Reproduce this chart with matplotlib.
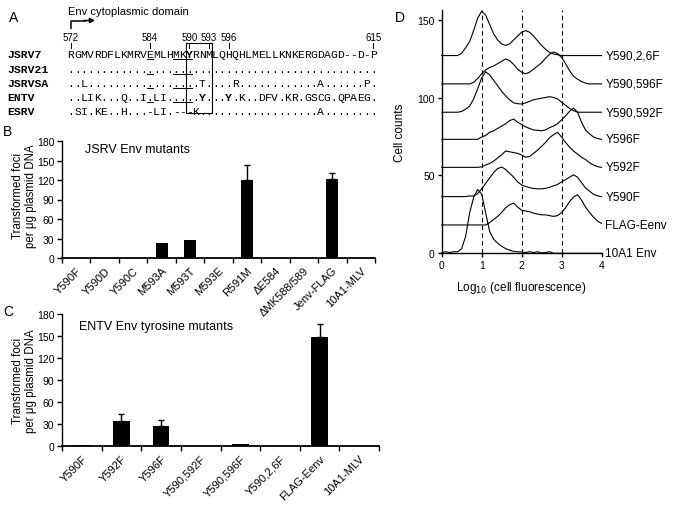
import matplotlib
matplotlib.use('Agg')
import matplotlib.pyplot as plt
import numpy as np

plt.rcParams['font.family'] = ['Liberation Sans', 'DejaVu Sans']

W, H = 675, 506

# ---------------- Panel A data ----------------
seq_names = ["JSRV7", "JSRV21", "JSRVSA", "ENTV", "ESRV"]
seq_rows = [
    "RGMVRDFLKMRVEMLHMKYRNMLQHQHLMELLKNKERGDAGD--D-P",
    "...............................................",
    "..L.................T....R............A......P.",
    "..LIK...Q..I.LI.....Y...Y.K..DFV.KR.GSCG.QPAEG.",
    ".SI.KE..H...-LI.---K..................A........",
]
pos_labels = {0: "572", 12: "584", 18: "590", 21: "593", 24: "596", 46: "615"}
bold_cells = [(0, 18), (3, 20), (3, 24)]
underline_cols = [12, 16, 17, 18]

# ---------------- Panel B data ----------------
cats_B = ["Y590F", "Y590D", "Y590C", "M593A", "M593T", "M593E", "R591M",
          "\u0394E584", "\u0394MK588/589", "Jenv-FLAG", "10A1-MLV"]
vals_B = [0, 0, 0, 22.5, 28, 0, 120.5, 0, 0, 122, 0]
errs_B = [0, 0, 0, 0, 0, 0, 22, 0, 0, 9.5, 0]

# ---------------- Panel C data ----------------
cats_C = ["Y590F", "Y592F", "Y596F", "Y590,592F", "Y590,596F", "Y590,2,6F",
          "FLAG-Eenv", "10A1-MLV"]
vals_C = [1.5, 34.5, 27.8, 0.5, 2.5, 0, 149, 0]
errs_C = [0, 9, 7.7, 0, 0, 0, 18, 0]

# ---------------- Panel D data ----------------
x_D = [round(0.1 * i, 1) for i in range(41)]
hist_labels = ["10A1 Env", "FLAG-Eenv", "Y590F", "Y592F", "Y596F",
               "Y590,592F", "Y590,596F", "Y590,2,6F"]
hist_offsets = [0, 18.2, 36.4, 55.2, 73.2, 90.6, 108.8, 127]
h_10A1 = [0.5, 1, 0.5, 1, 1, 3, 11, 26, 36, 41, 38, 26, 14, 9, 6.5, 4.5, 3, 2,
          1.2, 1, 0.8, 0.5, 1, 0.5, 1, 0.3, 0.5, 1, 0, 0, 0, 0, 0, 0, 0, 0, 0,
          0, 0, 0, 0]
h_FLAG = [0, 0, 0, 0, 0, 0, 0, 0, 0, 0, 0, 0, 1.5, 3.5, 5.5, 8, 11, 13, 14,
          11.5, 9.5, 9, 8.5, 7.5, 7, 6.5, 6.5, 6, 5.5, 6, 8, 11, 15, 18, 19.5,
          16, 11.5, 8, 5, 2.5, 1]
h_Y590F = [0, 0, 0, 0, 0, 0, 0, 0.5, 0.3, 2, 5, 8.5, 12, 15.5, 18, 19, 17.5,
           15, 12.5, 9.5, 7.5, 6.5, 5.8, 5.2, 5, 5, 5.3, 6, 7, 7.8, 9.5, 11,
           12.5, 14, 12.5, 9, 5.5, 3.5, 1.5, 0.5, 0]
h_Y592F = [0, 0, 0, 0, 0, 0, 0, 0, 0, 0, 0.3, 1.5, 2.5, 4, 6, 8, 10.5, 10,
           9.5, 9, 8, 6.5, 7, 9, 11, 13.5, 16, 19, 21, 22.5, 19.5, 16, 13,
           10.5, 8.5, 6.5, 5, 3, 1.5, 0.5, 0]
h_Y596F = [0, 0, 0, 0, 0, 0, 0, 0, 0, 0, 1.5, 2.5, 4.5, 5.5, 7, 8.5, 10, 12,
           13, 11, 9.5, 8, 7, 6, 5.8, 5.5, 6, 7.5, 8.5, 10, 12.5, 15, 18, 20,
           17.5, 11, 6, 3.5, 1.5, 0.5, 0]
h_Y590_592F = [0, 0, 0, 0, 0, 0.5, 2, 4, 8.5, 15, 22, 26, 24, 20.5, 17, 13.5,
               10.5, 8, 6, 5.5, 5.3, 6, 7, 8, 8.5, 9, 9.5, 10, 9.5, 8.5, 6.5,
               4.5, 2.5, 1, 0, 0, 0, 0, 0, 0, 0]
h_Y590_596F = [0, 0, 0, 0, 0, 0, 0, 0, 1, 3.5, 6.5, 9, 10.5, 11.5, 13, 14.5,
               16, 15, 12.5, 9.5, 7.5, 6.5, 7.5, 9.5, 11.5, 13.5, 16.5, 19,
               20.5, 19.5, 17, 13, 8.5, 5, 3, 1.5, 0.5, 0, 0, 0, 0]
h_Y590_2_6F = [0, 0, 0, 0, 0, 1.5, 5, 9, 16, 24, 28.5, 26, 20, 14, 10, 7.5,
               6.5, 7.5, 10, 12.5, 15, 16, 15, 12.5, 9.5, 6.5, 4, 2, 1, 0.5,
               0, 0, 0, 0, 0, 0, 0, 0, 0, 0, 0]
hist_heights = [h_10A1, h_FLAG, h_Y590F, h_Y592F, h_Y596F,
                h_Y590_592F, h_Y590_596F, h_Y590_2_6F]

# =====================================================
fig = plt.figure(figsize=(6.75, 5.06), dpi=100)


def rect(l, t, r, b):
    return [l / W, 1 - b / H, (r - l) / W, (b - t) / H]


def bar_panel(box, cats, vals, errs, title, title_xy):
    ax = fig.add_axes(rect(*box))
    n = len(cats)
    x = np.arange(n) + 0.5
    v = np.array(vals, float)
    e = np.array(errs, float)
    ax.bar(x, v, width=0.42, color='black', zorder=2)
    m = e > 0
    ax.errorbar(x[m], v[m], yerr=[np.zeros(m.sum()), e[m]], fmt='none',
                ecolor='black', elinewidth=1.0, capsize=2.2, capthick=1.0,
                zorder=3)
    ax.set_xlim(0, n)
    ax.set_ylim(0, 180)
    ax.set_yticks(range(0, 181, 30))
    ax.set_xticks(np.arange(n + 1))
    ax.set_xticklabels([])
    ax.set_xticks(x, minor=True)
    ax.set_xticklabels(cats, minor=True, rotation=45, ha='right', va='top',
                       rotation_mode='anchor', fontsize=8)
    ax.tick_params(axis='x', which='minor', length=0, pad=5)
    ax.tick_params(axis='x', which='major', length=3.5, width=1.0)
    ax.tick_params(axis='y', length=3.5, width=1.0, labelsize=7.5, pad=2)
    for s in ['top', 'right']:
        ax.spines[s].set_visible(False)
    ax.spines['left'].set_linewidth(1.0)
    ax.spines['bottom'].set_linewidth(1.3)
    ax.patch.set_alpha(0)
    ax.text(title_xy[0], title_xy[1], title, transform=ax.transAxes,
            fontsize=9, va='center', ha='left')
    return ax


axB = bar_panel((62, 142, 375, 259), cats_B, vals_B, errs_B,
                "JSRV Env mutants", (0.075, 0.93))
axC = bar_panel((62, 315, 379, 447), cats_C, vals_C, errs_C,
                "ENTV Env tyrosine mutants", (0.055, 0.91))

# ---------------- Panel D ----------------
axD = fig.add_axes(rect(441.7, 11.4, 601.5, 254.3))
axD.set_xlim(0, 4)
axD.set_ylim(0, 156)
for xv in (1, 2, 3):
    axD.plot([xv, xv], [0, 156], color='black', lw=0.8, ls=(0, (4, 3)),
             zorder=1)
for lab, off, h in zip(hist_labels, hist_offsets, hist_heights):
    axD.plot(x_D, np.array(h) + off, color='black', lw=0.8, zorder=2,
             clip_on=False)
    axD.text(4.1, off, lab, fontsize=8.5, va='center', ha='left',
             clip_on=False)
axD.set_xticks([0, 1, 2, 3, 4])
axD.set_yticks([0, 50, 100, 150])
axD.tick_params(axis='both', length=3, width=1.0, labelsize=7.5, pad=2)
for s in ['top', 'right']:
    axD.spines[s].set_visible(False)
axD.spines['left'].set_linewidth(1.0)
axD.spines['bottom'].set_linewidth(1.0)
axD.patch.set_alpha(0)
axD.set_xlabel("Log$_{10}$ (cell fluorescence)", fontsize=8.5, labelpad=6)
axD.set_ylabel("Cell counts", fontsize=8.5, labelpad=8)

# ---------------- Overlay for panel A and letters ----------------
axT = fig.add_axes([0, 0, 1, 1], zorder=-1)
axT.set_xlim(0, W)
axT.set_ylim(H, 0)
axT.axis('off')

for letter, (lx, ly) in zip("ABCD", [(14, 17.5), (8, 132), (8, 312), (400, 18)]):
    axT.text(lx, ly, letter, fontsize=10, ha='center', va='center')

# Y labels for B and C
for yc in (196, 381):
    axT.text(18, yc, "Transformed foci", rotation=90, fontsize=8.3,
             ha='center', va='center')
    axT.text(31, yc, "per \u03bcg plasmid DNA", rotation=90, fontsize=8.3,
             ha='center', va='center')

# Panel A
col0, cw = 71.0, 6.57
row_y = [55, 69.5, 84, 98, 112]


def cx(c):
    return col0 + c * cw


axT.text(68, 12, "Env cytoplasmic domain", fontsize=8, ha='left',
         va='center')
axT.plot([71, 71, 86], [30, 21.5, 21.5], color='black', lw=1.1,
         solid_capstyle='butt')
axT.annotate('', xy=(95, 21.5), xytext=(84, 21.5),
             arrowprops=dict(arrowstyle='-|>', color='black', lw=1.1,
                             mutation_scale=7, shrinkA=0, shrinkB=0))

for c, lab in pos_labels.items():
    axT.text(cx(c), 37.5, lab, fontsize=7, ha='center', va='center')
    axT.plot([cx(c), cx(c)], [43.5, 48.5], color='black', lw=0.7)

for r, (name, s) in enumerate(zip(seq_names, seq_rows)):
    axT.text(7, row_y[r], name, family='Liberation Mono', weight='bold',
             fontsize=8.2, ha='left', va='center')
    for c, ch in enumerate(s):
        bold = (r, c) in bold_cells
        axT.text(cx(c), row_y[r], ch, family='Liberation Mono',
                 weight='bold' if bold else 'normal', fontsize=8.2,
                 ha='center', va='center')
    if r < 4:
        for c in underline_cols:
            axT.plot([cx(c) - 3.0, cx(c) + 3.0], [row_y[r] + 5, row_y[r] + 5],
                     color='black', lw=0.7)

# box around 590-593
bl, br = cx(18) - cw / 2, cx(21) + cw / 2
axT.plot([bl, br, br, bl, bl], [43.5, 43.5, 114, 114, 43.5], color='black',
         lw=0.8)

fig.savefig("out.png", dpi=100)
